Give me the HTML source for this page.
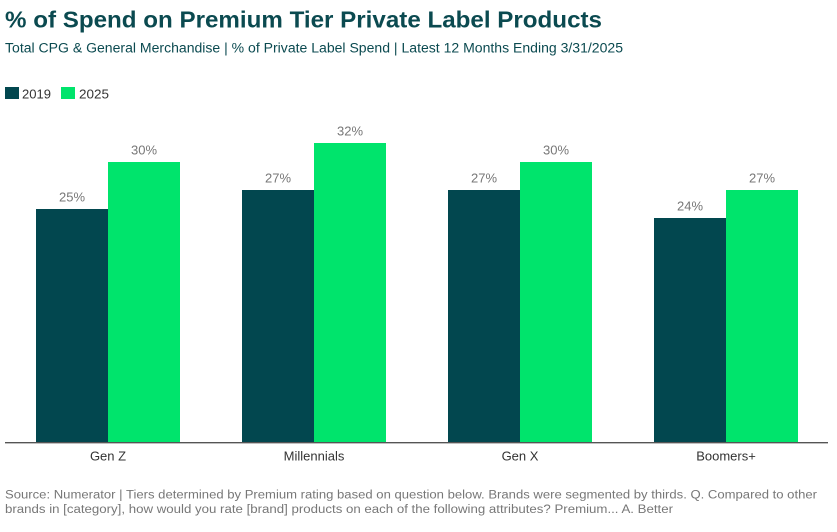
<!DOCTYPE html>
<html>
<head>
<meta charset="utf-8">
<style>
  html, body { margin: 0; padding: 0; background: #ffffff; }
  body { width: 837px; height: 532px; overflow: hidden; }
  svg { display: block; font-family: "Liberation Sans", "DejaVu Sans", sans-serif; }
</style>
</head>
<body>
<svg width="837" height="532" viewBox="0 0 837 532" xmlns="http://www.w3.org/2000/svg">
  <rect x="0" y="0" width="837" height="532" fill="#ffffff"/>

  <!-- Title -->
  <text x="5" y="27.5" font-size="23" font-weight="bold" fill="#0b4a50" textLength="597" lengthAdjust="spacingAndGlyphs">% of Spend on Premium Tier Private Label Products</text>
  <!-- Subtitle -->
  <text x="5" y="52.3" font-size="13.5" fill="#0b4a50" textLength="618" lengthAdjust="spacingAndGlyphs">Total CPG &amp; General Merchandise | % of Private Label Spend | Latest 12 Months Ending 3/31/2025</text>

  <!-- Legend -->
  <rect x="5" y="87" width="14" height="12" fill="#02474f"/>
  <text x="22" y="98.3" font-size="13" fill="#333333" textLength="29" lengthAdjust="spacingAndGlyphs">2019</text>
  <rect x="61" y="87" width="14" height="12" fill="#00e46c"/>
  <text x="79" y="98.3" font-size="13" fill="#333333" textLength="30" lengthAdjust="spacingAndGlyphs">2025</text>

  <!-- Bars -->
  <g>
    <rect x="36" y="209" width="72" height="233" fill="#02474f"/>
    <rect x="108" y="162" width="72" height="280" fill="#00e46c"/>
    <rect x="242" y="190" width="72" height="252" fill="#02474f"/>
    <rect x="314" y="143" width="72" height="299" fill="#00e46c"/>
    <rect x="448" y="190" width="72" height="252" fill="#02474f"/>
    <rect x="520" y="162" width="72" height="280" fill="#00e46c"/>
    <rect x="654" y="218" width="72" height="224" fill="#02474f"/>
    <rect x="726" y="190" width="72" height="252" fill="#00e46c"/>
  </g>

  <!-- Data labels -->
  <g font-size="13" fill="#777777" text-anchor="middle">
    <text x="72" y="201.3">25%</text>
    <text x="144" y="154.3">30%</text>
    <text x="278" y="182.3">27%</text>
    <text x="350" y="135.3">32%</text>
    <text x="484" y="182.3">27%</text>
    <text x="556" y="154.3">30%</text>
    <text x="690" y="210.3">24%</text>
    <text x="762" y="182.3">27%</text>
  </g>

  <!-- Axis line -->
  <line x1="5" y1="442.7" x2="828" y2="442.7" stroke="#555555" stroke-width="1.3"/>

  <!-- Category labels -->
  <g font-size="13" fill="#333333" text-anchor="middle">
    <text x="108" y="460.7">Gen Z</text>
    <text x="314" y="460.7">Millennials</text>
    <text x="520" y="460.7">Gen X</text>
    <text x="726" y="460.7">Boomers+</text>
  </g>

  <!-- Footer -->
  <text x="5" y="498.3" font-size="11.5" fill="#777777" textLength="812" lengthAdjust="spacingAndGlyphs">Source: Numerator | Tiers determined by Premium rating based on question below. Brands were segmented by thirds. Q. Compared to other</text>
  <text x="5" y="512.8" font-size="11.5" fill="#777777" textLength="668" lengthAdjust="spacingAndGlyphs">brands in [category], how would you rate [brand] products on each of the following attributes? Premium... A. Better</text>
</svg>
</body>
</html>
